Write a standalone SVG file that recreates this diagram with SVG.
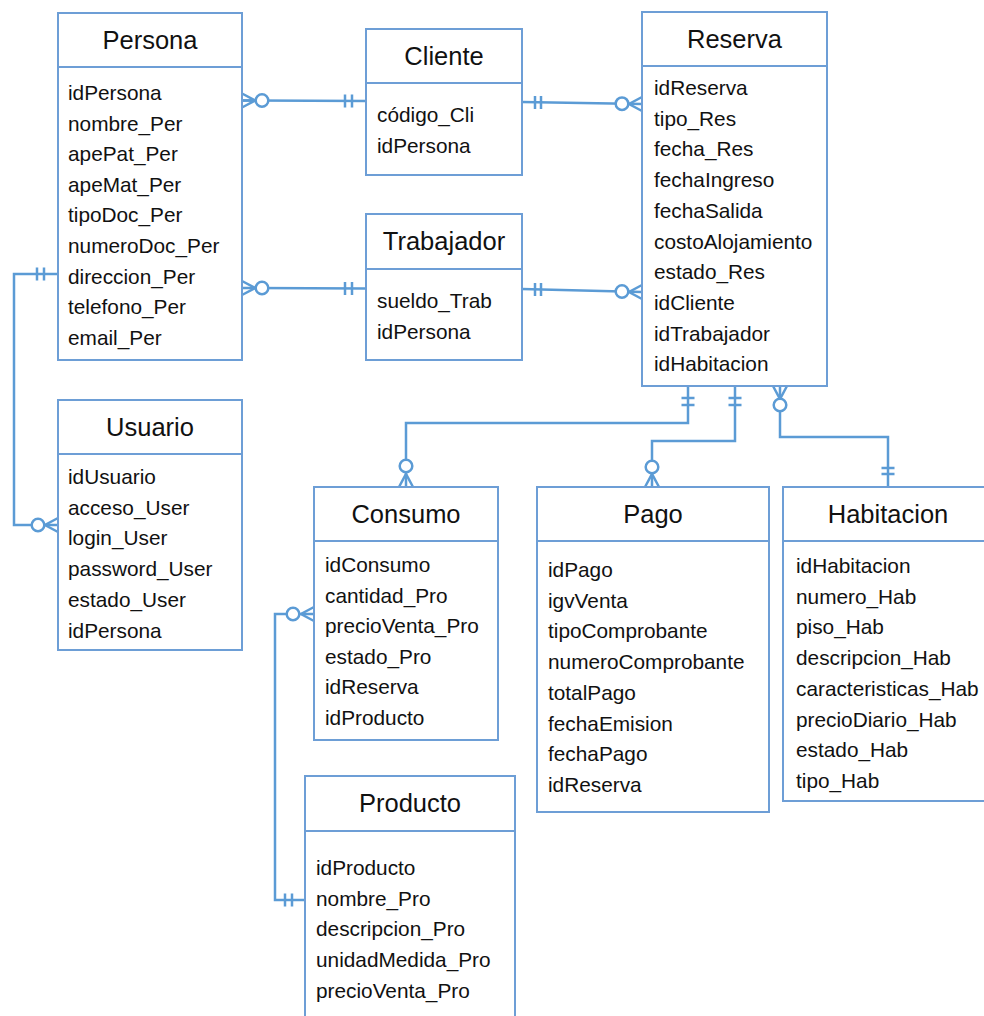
<svg xmlns="http://www.w3.org/2000/svg" width="984" height="1016" viewBox="0 0 984 1016">
<style>
.box{fill:#fff;stroke:#6d9ed6;stroke-width:2}
.sep{stroke:#6d9ed6;stroke-width:2}
.t{font-family:"Liberation Sans",Arial,sans-serif;font-size:25.5px;fill:#111;text-anchor:middle}
.a{font-family:"Liberation Sans",Arial,sans-serif;font-size:20.8px;fill:#111}
.c{fill:none;stroke:#5b9bd5;stroke-width:2.5}
.o{fill:#fff;stroke:#5b9bd5;stroke-width:2.5}
</style>
<rect width="984" height="1016" fill="#fff"/>
<g id="connectors">
<!-- Persona - Cliente -->
<line class="c" x1="242" y1="100.5" x2="366" y2="101"/>
<path class="c" d="M242,93.5 L255,100.5 L242,107.5 M242,100.5 L255,100.5 M345,94.5 V107.5 M352,94.5 V107.5"/>
<circle class="o" cx="262" cy="100.5" r="6.3"/>
<!-- Cliente - Reserva -->
<line class="c" x1="522" y1="102" x2="642" y2="104"/>
<path class="c" d="M535,96 V109 M541,96 V109 M642,97 L629,104 L642,111"/>
<circle class="o" cx="622" cy="103.7" r="6.3"/>
<!-- Persona - Trabajador -->
<line class="c" x1="242" y1="288" x2="366" y2="288.5"/>
<path class="c" d="M242,281 L255,288 L242,295 M345,282 V295 M352,282 V295"/>
<circle class="o" cx="262" cy="288" r="6.3"/>
<!-- Trabajador - Reserva -->
<line class="c" x1="522" y1="289" x2="642" y2="292"/>
<path class="c" d="M535,283 V296 M541,283 V296 M642,285 L629,292 L642,299"/>
<circle class="o" cx="622" cy="291.5" r="6.3"/>
<!-- Persona - Usuario -->
<polyline class="c" points="58,274 14,274 14,525 58,525"/>
<path class="c" d="M37,267.5 V280.5 M44,267.5 V280.5 M58,518 L45,525 L58,532"/>
<circle class="o" cx="38" cy="525" r="6.3"/>
<!-- Consumo - Producto -->
<polyline class="c" points="314,614 275,614 275,900 305,900"/>
<path class="c" d="M314,607 L301,614 L314,621 M285,893.5 V906.5 M292,893.5 V906.5"/>
<circle class="o" cx="293" cy="614" r="6.3"/>
<!-- Reserva - Consumo -->
<polyline class="c" points="688,386 688,423 406,423 406,487"/>
<path class="c" d="M681.5,398 H694.5 M681.5,405 H694.5 M399,487 L406,474 L413,487"/>
<circle class="o" cx="406" cy="466" r="6.3"/>
<!-- Reserva - Pago -->
<polyline class="c" points="735,386 735,441 652,441 652,487"/>
<path class="c" d="M728.5,398 H741.5 M728.5,405 H741.5 M645,487 L652,474 L659,487"/>
<circle class="o" cx="652" cy="467" r="6.3"/>
<!-- Reserva - Habitacion -->
<polyline class="c" points="780,386 780,437 888,437 888,487"/>
<path class="c" d="M773,386 L780,399 L787,386 M881.5,468 H894.5 M881.5,474 H894.5"/>
<circle class="o" cx="780" cy="405" r="6.3"/>
</g>
<g id="Persona">
<rect class="box" x="58" y="13" width="184" height="347"/>
<line class="sep" x1="58" y1="67" x2="242" y2="67"/>
<text class="t" x="150" y="49">Persona</text>
<text class="a" x="68" y="100">idPersona</text>
<text class="a" x="68" y="130.6">nombre_Per</text>
<text class="a" x="68" y="161.2">apePat_Per</text>
<text class="a" x="68" y="191.8">apeMat_Per</text>
<text class="a" x="68" y="222.4">tipoDoc_Per</text>
<text class="a" x="68" y="253">numeroDoc_Per</text>
<text class="a" x="68" y="283.6">direccion_Per</text>
<text class="a" x="68" y="314.2">telefono_Per</text>
<text class="a" x="68" y="344.8">email_Per</text>
</g>
<g id="Cliente">
<rect class="box" x="366" y="29" width="156" height="146"/>
<line class="sep" x1="366" y1="83" x2="522" y2="83"/>
<text class="t" x="444" y="65">Cliente</text>
<text class="a" x="377" y="122">código_Cli</text>
<text class="a" x="377" y="152.6">idPersona</text>
</g>
<g id="Trabajador">
<rect class="box" x="366" y="214" width="156" height="146"/>
<line class="sep" x1="366" y1="269" x2="522" y2="269"/>
<text class="t" x="444" y="250">Trabajador</text>
<text class="a" x="377" y="308">sueldo_Trab</text>
<text class="a" x="377" y="338.6">idPersona</text>
</g>
<g id="Reserva">
<rect class="box" x="642" y="12" width="185" height="374"/>
<line class="sep" x1="642" y1="66" x2="827" y2="66"/>
<text class="t" x="734.5" y="47.5">Reserva</text>
<text class="a" x="654" y="95">idReserva</text>
<text class="a" x="654" y="125.7">tipo_Res</text>
<text class="a" x="654" y="156.4">fecha_Res</text>
<text class="a" x="654" y="187.1">fechaIngreso</text>
<text class="a" x="654" y="217.8">fechaSalida</text>
<text class="a" x="654" y="248.5">costoAlojamiento</text>
<text class="a" x="654" y="279.2">estado_Res</text>
<text class="a" x="654" y="309.9">idCliente</text>
<text class="a" x="654" y="340.6">idTrabajador</text>
<text class="a" x="654" y="371.3">idHabitacion</text>
</g>
<g id="Usuario">
<rect class="box" x="58" y="400" width="184" height="250"/>
<line class="sep" x1="58" y1="454" x2="242" y2="454"/>
<text class="t" x="150" y="435.5">Usuario</text>
<text class="a" x="68" y="484">idUsuario</text>
<text class="a" x="68" y="514.7">acceso_User</text>
<text class="a" x="68" y="545.4">login_User</text>
<text class="a" x="68" y="576.1">password_User</text>
<text class="a" x="68" y="606.8">estado_User</text>
<text class="a" x="68" y="637.5">idPersona</text>
</g>
<g id="Consumo">
<rect class="box" x="314" y="487" width="184" height="253"/>
<line class="sep" x1="314" y1="541" x2="498" y2="541"/>
<text class="t" x="406" y="522.5">Consumo</text>
<text class="a" x="325" y="572">idConsumo</text>
<text class="a" x="325" y="602.6">cantidad_Pro</text>
<text class="a" x="325" y="633.2">precioVenta_Pro</text>
<text class="a" x="325" y="663.8">estado_Pro</text>
<text class="a" x="325" y="694.4">idReserva</text>
<text class="a" x="325" y="725">idProducto</text>
</g>
<g id="Pago">
<rect class="box" x="537" y="487" width="232" height="325"/>
<line class="sep" x1="537" y1="541" x2="769" y2="541"/>
<text class="t" x="653" y="522.5">Pago</text>
<text class="a" x="548" y="577">idPago</text>
<text class="a" x="548" y="607.7">igvVenta</text>
<text class="a" x="548" y="638.4">tipoComprobante</text>
<text class="a" x="548" y="669.1">numeroComprobante</text>
<text class="a" x="548" y="699.8">totalPago</text>
<text class="a" x="548" y="730.5">fechaEmision</text>
<text class="a" x="548" y="761.2">fechaPago</text>
<text class="a" x="548" y="791.9">idReserva</text>
</g>
<g id="Habitacion">
<rect class="box" x="783" y="487" width="210" height="314"/>
<line class="sep" x1="783" y1="541" x2="993" y2="541"/>
<text class="t" x="888" y="522.5">Habitacion</text>
<text class="a" x="796" y="573">idHabitacion</text>
<text class="a" x="796" y="603.7">numero_Hab</text>
<text class="a" x="796" y="634.4">piso_Hab</text>
<text class="a" x="796" y="665.1">descripcion_Hab</text>
<text class="a" x="796" y="695.8">caracteristicas_Hab</text>
<text class="a" x="796" y="726.5">precioDiario_Hab</text>
<text class="a" x="796" y="757.2">estado_Hab</text>
<text class="a" x="796" y="787.9">tipo_Hab</text>
</g>
<g id="Producto">
<rect class="box" x="305" y="776" width="210" height="260"/>
<line class="sep" x1="305" y1="831" x2="515" y2="831"/>
<text class="t" x="410" y="812">Producto</text>
<text class="a" x="316" y="875">idProducto</text>
<text class="a" x="316" y="905.7">nombre_Pro</text>
<text class="a" x="316" y="936.4">descripcion_Pro</text>
<text class="a" x="316" y="967.1">unidadMedida_Pro</text>
<text class="a" x="316" y="997.8">precioVenta_Pro</text>
</g>
</svg>
